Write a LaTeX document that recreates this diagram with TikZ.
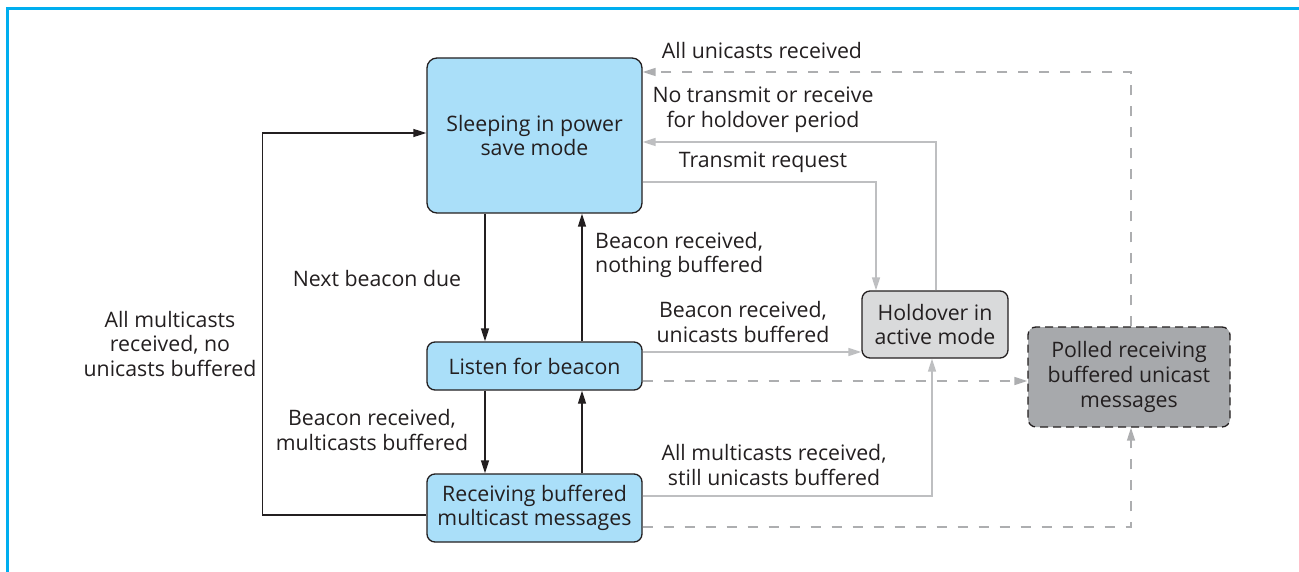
\documentclass[tikz,border=0pt]{standalone}
\usepackage{fontspec}
\setmainfont{Open Sans}
\usetikzlibrary{arrows.meta}
\definecolor{frameblue}{HTML}{00AEEF}
\definecolor{boxblue}{HTML}{AADFF9}
\definecolor{holdgray}{HTML}{D9DADB}
\definecolor{pollgray}{HTML}{A7A9AC}
\definecolor{ink}{HTML}{231F20}
\definecolor{lightline}{HTML}{BEBFC1}
\definecolor{dashline}{HTML}{ADAEB0}
\tikzset{
  state/.style={draw=ink, line width=1.3pt, rounded corners=8pt, align=center, inner sep=0pt, text=ink,
    font=\fontsize{21.3}{24.8}\selectfont},
  lbl/.style={align=center, inner sep=0pt, text=ink, font=\fontsize{21.3}{24.8}\selectfont},
  blk/.style={draw=ink, line width=1.3pt, -{Triangle[length=13pt,width=8pt]}},
  lgt/.style={draw=lightline, line width=1.4pt, -{Triangle[length=13pt,width=8pt]}},
  dsh/.style={draw=dashline, line width=1.4pt, dash pattern=on 10pt off 11pt, -{Triangle[length=13pt,width=8pt]}},
}
\begin{document}
\begin{tikzpicture}[x=1pt,y=-1pt]
\useasboundingbox (0,0) rectangle (1299,572);
\fill[white] (0,0) rectangle (1299,572);
\draw[frameblue, line width=3pt] (7.5,572) -- (7.5,8.5) -- (1299,8.5);

\node[state, fill=boxblue, minimum width=215pt, minimum height=155pt, rounded corners=10pt] (sleep) at (534.5,135.5) {Sleeping in power\\save mode};
\node[state, fill=boxblue, minimum width=215pt, minimum height=48pt] (listen) at (534.5,366) {Listen for beacon};
\node[state, fill=boxblue, minimum width=215pt, minimum height=68pt] (recv) at (534.5,508) {Receiving buffered\\multicast messages};
\node[state, fill=holdgray, minimum width=146pt, minimum height=67pt] (hold) at (935,324.5) {Holdover in\\active mode};
\node[state, fill=pollgray, minimum width=202pt, minimum height=100pt, dash pattern=on 8pt off 5pt] (poll) at (1129,377) {Polled receiving\\buffered unicast\\messages};

% black connectors
\draw[blk] ([xshift=-49.5pt]sleep.south) -- ([xshift=-49.5pt]listen.north);
\draw[blk] ([xshift=47.5pt]listen.north) -- ([xshift=47.5pt]sleep.south);
\draw[blk] ([xshift=-49.5pt]listen.south) -- ([xshift=-49.5pt]recv.north);
\draw[blk] ([xshift=47.5pt]recv.north) -- ([xshift=47.5pt]listen.south);
\draw[blk] ([yshift=-7pt]recv.west) -- ++(-164,0) |- ([yshift=2.5pt]sleep.west);

% light gray connectors
\draw[lgt] ([yshift=-46.5pt]sleep.east) -| ([xshift=-59pt]hold.north);
\draw[lgt] ([xshift=1pt]hold.north) |- ([yshift=-6.5pt]sleep.east);
\coordinate (lb) at ([yshift=14pt]listen.east);
\draw[lgt] (lb) -- (lb -| hold.west);
\draw[lgt] ([yshift=12pt]recv.east) -| ([xshift=-3pt]hold.south);

% dashed connectors
\coordinate (lp) at ([yshift=-15pt]listen.east);
\draw[dsh] (lp) -- (lp -| poll.west);
\draw[dsh] ([yshift=-19pt]recv.east) -| ([xshift=2pt]poll.south);
\draw[dsh] ([xshift=2pt]poll.north) |- ([yshift=63.5pt]sleep.east);

% labels
\node[lbl] (l1) at (762,51) {All unicasts received};
\node[lbl] (l2) at (763,110) {No transmit or receive\\for holdover period};
\node[lbl] (l3) at (763,162) {Transmit request};
\node[lbl, align=left, anchor=west] (l4) at (595,255) {Beacon received,\\nothing buffered};
\node[lbl] (l5) at (377,279) {Next beacon due};
\node[lbl] (l6) at (743,322) {Beacon received,\\unicasts buffered};
\node[lbl] (l7) at (170,344) {All multicasts\\received, no\\unicasts buffered};
\node[lbl] (l8) at (372,430) {Beacon received,\\multicasts buffered};
\node[lbl] (l9) at (774,465) {All multicasts received,\\still unicasts buffered};
\end{tikzpicture}
\end{document}
